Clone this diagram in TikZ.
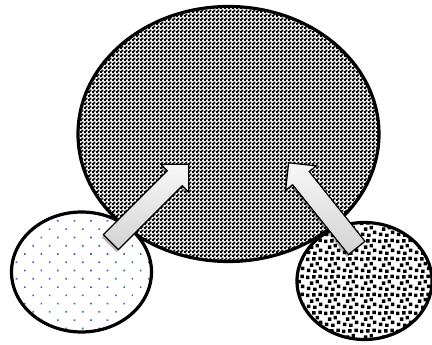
\documentclass[tikz,border=0pt]{standalone}
\usetikzlibrary{shapes.geometric,shapes.arrows,patterns,patterns.meta,shadows}

\definecolor{dotblue}{RGB}{50,100,205}

\pgfdeclarepatternformonly{finecheck}{\pgfpointorigin}{\pgfqpoint{4pt}{4pt}}{\pgfqpoint{4pt}{4pt}}{%
  \pgfpathrectangle{\pgfqpoint{-0.25pt}{-0.25pt}}{\pgfqpoint{2.5pt}{2.5pt}}%
  \pgfpathrectangle{\pgfqpoint{1.75pt}{1.75pt}}{\pgfqpoint{2.5pt}{2.5pt}}%
  \pgfusepath{fill}}

\pgfdeclarepatternformonly{bigconfetti}{\pgfpointorigin}{\pgfqpoint{18pt}{18pt}}{\pgfqpoint{18pt}{18pt}}{%
  \pgfpathrectangle{\pgfqpoint{1pt}{1pt}}{\pgfqpoint{3.6pt}{3.6pt}}%
  \pgfpathrectangle{\pgfqpoint{7.5pt}{0pt}}{\pgfqpoint{3.6pt}{3.6pt}}%
  \pgfpathrectangle{\pgfqpoint{13.5pt}{3pt}}{\pgfqpoint{3.6pt}{3.6pt}}%
  \pgfpathrectangle{\pgfqpoint{4pt}{6.5pt}}{\pgfqpoint{3.6pt}{3.6pt}}%
  \pgfpathrectangle{\pgfqpoint{10pt}{8pt}}{\pgfqpoint{3.6pt}{3.6pt}}%
  \pgfpathrectangle{\pgfqpoint{0pt}{12.5pt}}{\pgfqpoint{3.6pt}{3.6pt}}%
  \pgfpathrectangle{\pgfqpoint{6.5pt}{13pt}}{\pgfqpoint{3.6pt}{3.6pt}}%
  \pgfpathrectangle{\pgfqpoint{13pt}{13.5pt}}{\pgfqpoint{3.6pt}{3.6pt}}%
  \pgfusepath{fill}}

\tikzset{
  blob/.style={ellipse, draw, line width=3.2pt, inner sep=0pt, preaction={fill=white}},
  blockarrow/.style={single arrow, draw=black, line width=1.2pt,
    single arrow tip angle=90, single arrow head extend=9pt,
    inner xsep=0pt, inner ysep=10pt, allow upside down,
    top color=gray!6, bottom color=gray!35,
    drop shadow={shadow xshift=-1.5pt, shadow yshift=-2.5pt, opacity=.3, fill=black}}
}

\begin{document}
\begin{tikzpicture}[x=1pt, y=-1pt]
  \useasboundingbox (0,0) rectangle (432,345);

  \node[blob, pattern=finecheck, minimum width=301pt, minimum height=255pt] (whole) at (228.5,134) {};
  \node[blob, pattern={Dots[distance=11.7pt, angle=45, radius=1.15pt]}, pattern color=dotblue,
        minimum width=140pt, minimum height=120pt] (leftpart) at (81.5,272) {};
  \node[blob, pattern=bigconfetti, minimum width=135pt, minimum height=117pt] (rightpart) at (364.5,281) {};

  \coordinate (ltail) at (107,246);
  \coordinate (ltip) at (185,168);
  \coordinate (rtail) at (360,252);
  \coordinate (rtip) at (292,167);

  \path (ltail) -- node[blockarrow, sloped, minimum height=110pt] (larrow) {} (ltip);
  \path (rtail) -- node[blockarrow, sloped, minimum height=109pt] (rarrow) {} (rtip);
\end{tikzpicture}
\end{document}
